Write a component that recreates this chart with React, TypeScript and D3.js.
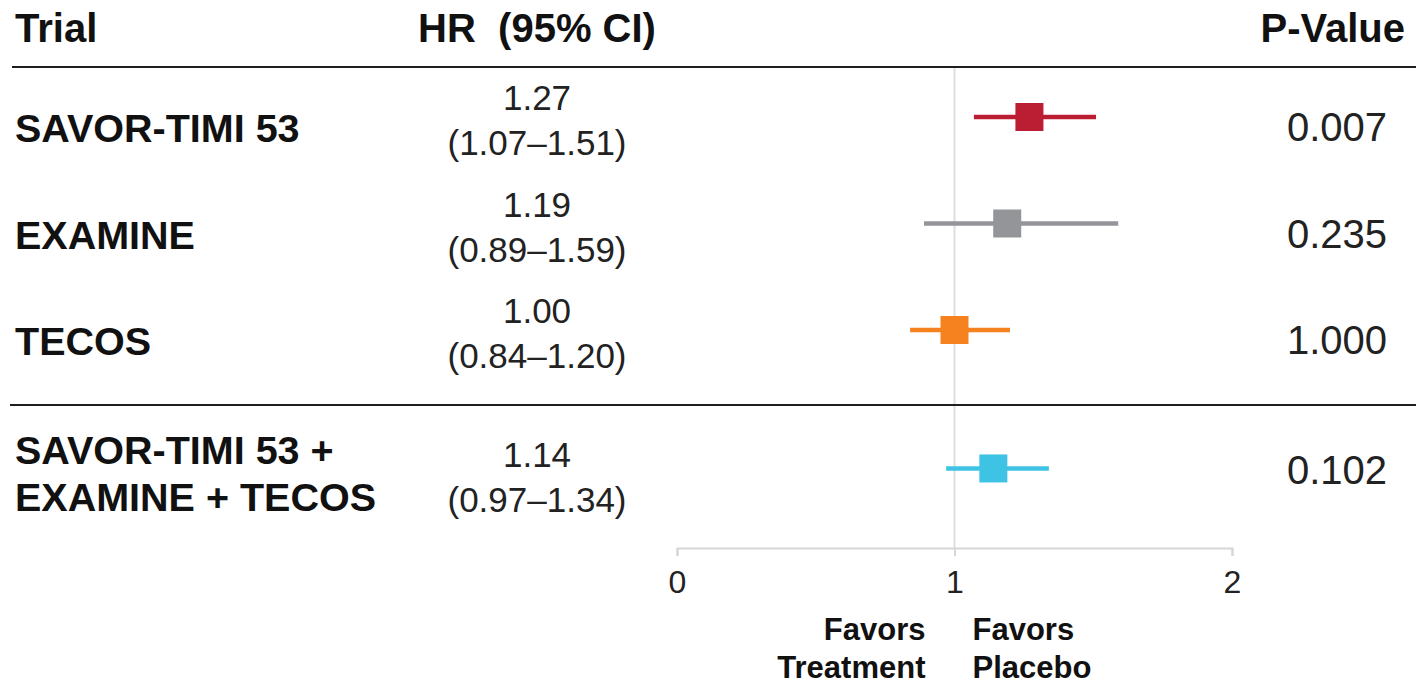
import * as d3 from "d3";
import { useEffect, useRef } from "react";

const WIDTH = 1416;
const HEIGHT = 685;
const FONT = '"Liberation Sans", Arial, Helvetica, sans-serif';

// rows of the forest plot
const trialLabels = [["SAVOR-TIMI 53"], ["EXAMINE"], ["TECOS"], ["SAVOR-TIMI 53 +", "EXAMINE + TECOS"]];
const hazardRatios = [1.27, 1.19, 1.0, 1.14];
const ciLower = [1.07, 0.89, 0.84, 0.97];
const ciUpper = [1.51, 1.59, 1.2, 1.34];
const pValues = ["0.007", "0.235", "1.000", "0.102"];
const rowColors = ["#bb1e32", "#939598", "#f5821f", "#3ec3e4"];
const rowSlots = [0, 1, 2, 3.3];

const xTicks = [0, 1, 2];
const headerLabels = ["Trial", "HR  (95% CI)", "P-Value"];
const favorsLeft = ["Favors", "Treatment"];
const favorsRight = ["Favors", "Placebo"];

export default function App() {
    const svgRef = useRef<SVGSVGElement | null>(null);

    useEffect(() => {
        if (!svgRef.current) return;
        const svg = d3.select(svgRef.current);
        svg.selectAll("*").remove();

        const x = d3.scaleLinear().domain([0, 2]).range([677, 1232]);
        const y = d3.scaleLinear().domain([0, 1]).range([117, 223.5]);

        const labelX = 15;
        const hrX = 537;
        const pX = 1337;
        const pHeaderX = 1405;
        const headerBase = 42;
        const headerLineY = 67;
        const splitLineY = 405;
        const axisY = 548;

        const g = svg.append("g").attr("font-family", FONT);

        // header
        g.append("text").attr("x", labelX).attr("y", headerBase).attr("font-size", 40).attr("font-weight", "bold").attr("fill", "#111").text(headerLabels[0]);
        g.append("text")
            .attr("x", hrX)
            .attr("y", headerBase)
            .attr("text-anchor", "middle")
            .attr("font-size", 40)
            .attr("font-weight", "bold")
            .attr("fill", "#111")
            .style("white-space", "pre")
            .text(headerLabels[1]);
        g.append("text")
            .attr("x", pHeaderX)
            .attr("y", headerBase)
            .attr("text-anchor", "end")
            .attr("font-size", 40)
            .attr("font-weight", "bold")
            .attr("fill", "#111")
            .text(headerLabels[2]);

        // reference line at HR = 1
        g.append("line")
            .attr("x1", x(1))
            .attr("x2", x(1))
            .attr("y1", headerLineY)
            .attr("y2", axisY)
            .attr("stroke", "#dddddd")
            .attr("stroke-width", 2);

        g.append("line").attr("x1", 12).attr("x2", WIDTH).attr("y1", headerLineY).attr("y2", headerLineY).attr("stroke", "#1e1e1e").attr("stroke-width", 2);
        g.append("line").attr("x1", 10).attr("x2", WIDTH).attr("y1", splitLineY).attr("y2", splitLineY).attr("stroke", "#1e1e1e").attr("stroke-width", 2);

        // axis
        const axis = g
            .append("g")
            .attr("transform", `translate(0,${axisY})`)
            .call(
                d3
                    .axisBottom(x)
                    .tickValues(xTicks)
                    .tickSize(8)
                    .tickPadding(14)
                    .tickFormat((d) => d3.format("d")(Number(d)))
            );
        axis.select(".domain").attr("stroke", "#d6d6d6").attr("stroke-width", 2);
        axis.selectAll(".tick line").attr("stroke", "#d6d6d6").attr("stroke-width", 2);
        axis.selectAll(".tick text").attr("font-size", 32).attr("font-family", FONT).attr("fill", "#222");

        // favors labels
        favorsLeft.forEach((t, k) => {
            g.append("text")
                .attr("x", x(1) - 29)
                .attr("y", 640 + k * 38)
                .attr("text-anchor", "end")
                .attr("font-size", 31)
                .attr("font-weight", "bold")
                .attr("fill", "#111")
                .text(t);
        });
        favorsRight.forEach((t, k) => {
            g.append("text")
                .attr("x", x(1) + 18)
                .attr("y", 640 + k * 38)
                .attr("font-size", 31)
                .attr("font-weight", "bold")
                .attr("fill", "#111")
                .text(t);
        });

        // rows
        trialLabels.forEach((lines, i) => {
            const m = y(rowSlots[i]);
            const n = lines.length;
            const row = g.append("g");

            lines.forEach((t, k) => {
                row.append("text")
                    .attr("x", labelX)
                    .attr("y", m + 25 - (n - 1) * 29 + k * 47)
                    .attr("font-size", 39.5)
                    .attr("font-weight", "bold")
                    .attr("fill", "#111")
                    .text(t);
            });

            const hrBase = m - 7 + (n - 1) * 6;
            row.append("text")
                .attr("x", hrX)
                .attr("y", hrBase)
                .attr("text-anchor", "middle")
                .attr("font-size", 35)
                .attr("fill", "#222")
                .text(hazardRatios[i].toFixed(2));
            row.append("text")
                .attr("x", hrX)
                .attr("y", hrBase + 45)
                .attr("text-anchor", "middle")
                .attr("font-size", 35)
                .attr("fill", "#222")
                .text(`(${ciLower[i].toFixed(2)}\u2013${ciUpper[i].toFixed(2)})`);

            row.append("text")
                .attr("x", pX)
                .attr("y", m + 24 - (n - 1) * 8)
                .attr("text-anchor", "middle")
                .attr("font-size", 40)
                .attr("fill", "#222")
                .text(pValues[i]);

            row.append("line")
                .attr("x1", x(ciLower[i]))
                .attr("x2", x(ciUpper[i]))
                .attr("y1", m)
                .attr("y2", m)
                .attr("stroke", rowColors[i])
                .attr("stroke-width", 4.5);
            row.append("rect")
                .attr("x", x(hazardRatios[i]) - 14)
                .attr("y", m - 14)
                .attr("width", 28)
                .attr("height", 28)
                .attr("fill", rowColors[i]);
        });

        return () => {
            svg.selectAll("*").remove();
        };
    }, []);

    return (
        <svg
            ref={svgRef}
            width={WIDTH}
            height={HEIGHT}
            style={{ position: "absolute", left: 0, top: 0, background: "#fff" }}
        />
    );
}
